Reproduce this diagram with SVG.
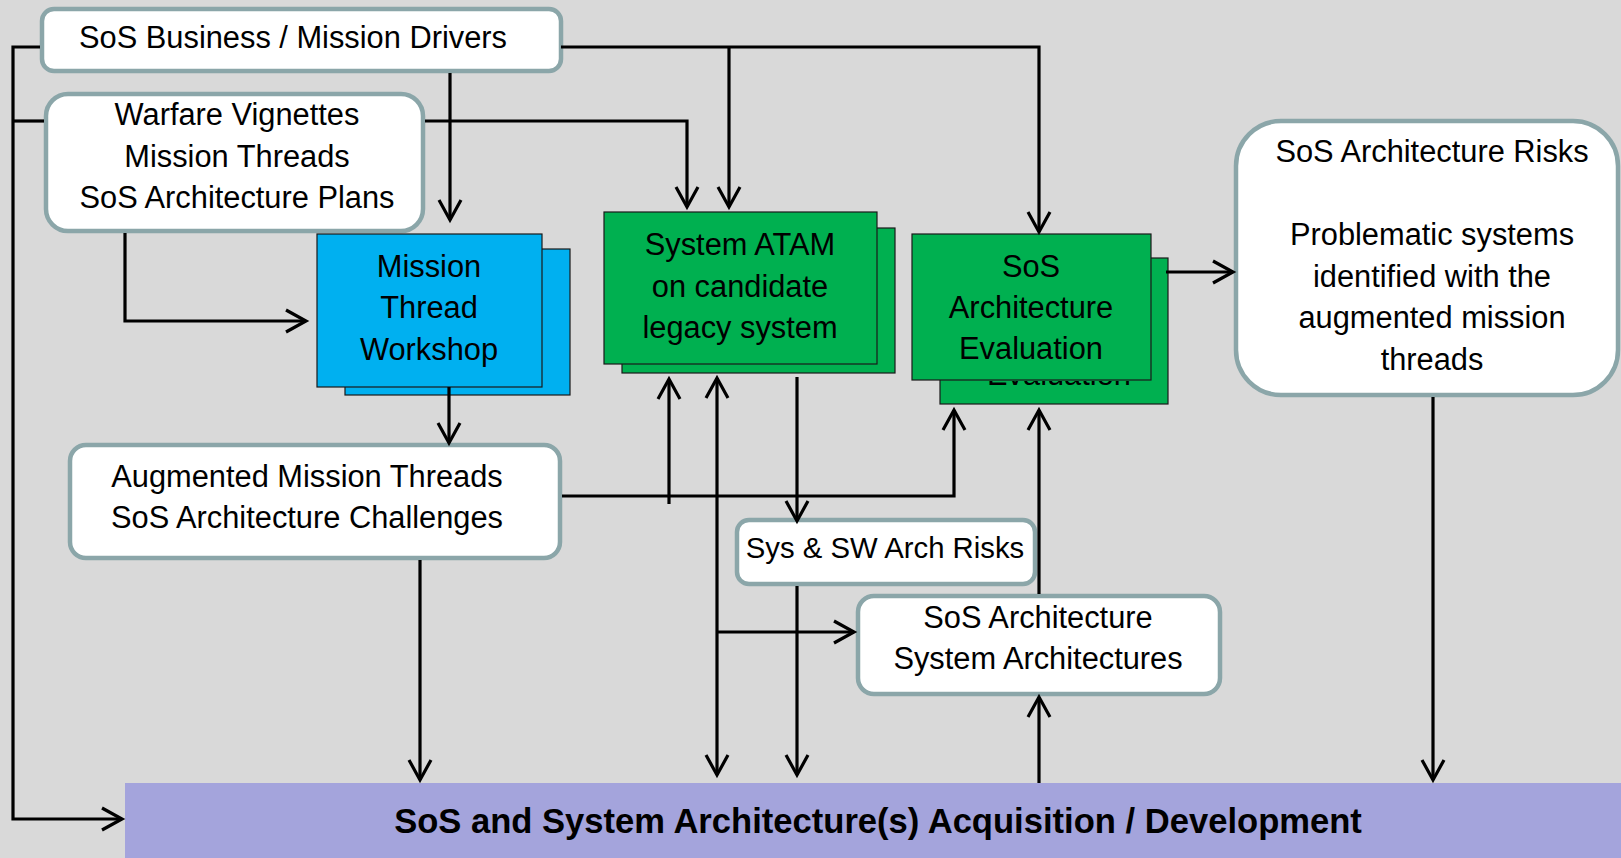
<svg xmlns="http://www.w3.org/2000/svg" width="1621" height="858" viewBox="0 0 1621 858">
<defs>
<marker id="ah" markerUnits="userSpaceOnUse" markerWidth="26" markerHeight="26" refX="20" refY="11" orient="auto" overflow="visible">
<path d="M0,0 L20,11 L0,22" fill="none" stroke="#000" stroke-width="3.2"/>
</marker>
<clipPath id="evalclip"><rect x="940" y="381" width="228" height="23"/></clipPath>
<style>
.wb{fill:#fff;stroke:#8ba6a9;stroke-width:4.5}
.blue{fill:#00b0f0;stroke:#1a1a1a;stroke-width:1.2}
.green{fill:#00b050;stroke:#1a1a1a;stroke-width:1.2}
.t{font-family:"Liberation Sans",Arial,sans-serif;font-size:30.8px;fill:#000;text-anchor:middle}
.bt{font-family:"Liberation Sans",Arial,sans-serif;font-size:34.6px;font-weight:bold;fill:#000;text-anchor:middle}
.c{fill:none;stroke:#000;stroke-width:3.2}
.a{marker-end:url(#ah)}
</style>
</defs>
<rect x="0" y="0" width="1621" height="858" fill="#d9d9d9"/>

<g id="drivers">
<rect class="wb" x="42" y="9" width="519" height="62" rx="12"/>
<text class="t" x="293" y="48">SoS Business / Mission Drivers</text>
</g>
<g id="vignettes">
<rect class="wb" x="46" y="94" width="377" height="137" rx="22"/>
<text class="t" x="237" y="125">Warfare Vignettes</text>
<text class="t" x="237" y="167">Mission Threads</text>
<text class="t" x="237" y="208">SoS Architecture Plans</text>
</g>
<g id="workshop">
<rect class="blue" x="345" y="249" width="225" height="146"/>
<rect class="blue" x="317" y="234" width="225" height="153"/>
<text class="t" x="429" y="277">Mission</text>
<text class="t" x="429" y="318">Thread</text>
<text class="t" x="429" y="360">Workshop</text>
</g>
<g id="atam">
<rect class="green" x="622" y="228" width="273" height="145"/>
<rect class="green" x="604" y="212" width="273" height="152"/>
<text class="t" x="740" y="255">System ATAM</text>
<text class="t" x="740" y="297">on candidate</text>
<text class="t" x="740" y="338">legacy system</text>
</g>
<g id="soseval">
<rect class="green" x="940" y="258" width="228" height="146"/>
<text class="t" x="1059" y="385" clip-path="url(#evalclip)">Evaluation</text>
<rect class="green" x="912" y="234" width="239" height="146"/>
<text class="t" x="1031" y="277">SoS</text>
<text class="t" x="1031" y="318">Architecture</text>
<text class="t" x="1031" y="359">Evaluation</text>
</g>
<g id="risks">
<rect class="wb" x="1236" y="121" width="382" height="274" rx="45"/>
<text class="t" x="1432" y="162">SoS Architecture Risks</text>
<text class="t" x="1432" y="245">Problematic systems</text>
<text class="t" x="1432" y="287">identified with the</text>
<text class="t" x="1432" y="328">augmented mission</text>
<text class="t" x="1432" y="370">threads</text>
</g>
<g id="augmented">
<rect class="wb" x="70" y="445" width="490" height="113" rx="16"/>
<text class="t" x="307" y="487">Augmented Mission Threads</text>
<text class="t" x="307" y="528">SoS Architecture Challenges</text>
</g>
<g id="syssw">
<rect class="wb" x="737" y="520" width="298" height="64" rx="12"/>
<text class="t" x="885" y="558" style="font-size:29.3px">Sys &amp; SW Arch Risks</text>
</g>
<g id="sosarch">
<rect class="wb" x="858" y="596" width="362" height="98" rx="16"/>
<text class="t" x="1038" y="628">SoS Architecture</text>
<text class="t" x="1038" y="669">System Architectures</text>
</g>
<g id="acquisition">
<rect x="125" y="783" width="1496" height="75" fill="#a4a4dc"/>
<text class="bt" x="878" y="833">SoS and System Architecture(s) Acquisition / Development</text>
</g>

<g id="connectors">
<path class="c a" d="M40,47 H13 V819 H122"/>
<path class="c" d="M44,121 H13"/>
<path class="c a" d="M561,47 H1039 V232"/>
<path class="c a" d="M729,47 V207"/>
<path class="c a" d="M450,73 V220"/>
<path class="c a" d="M425,121 H687 V207"/>
<path class="c a" d="M125,233 V321 H306"/>
<path class="c a" d="M449,387 V443"/>
<path class="c a" d="M562,496 H954 V410"/>
<path class="c a" d="M669,504 V379"/>
<path class="c a" d="M717,500 V378"/>
<path class="c a" d="M717,500 V775"/>
<path class="c a" d="M717,632 H854"/>
<path class="c a" d="M797,377 V521"/>
<path class="c a" d="M797,586 V775"/>
<path class="c a" d="M1039,594 V410"/>
<path class="c a" d="M1039,783 V697"/>
<path class="c a" d="M420,560 V780"/>
<path class="c a" d="M1433,397 V780"/>
<path class="c a" d="M1166,272 H1233"/>
</g>
</svg>
